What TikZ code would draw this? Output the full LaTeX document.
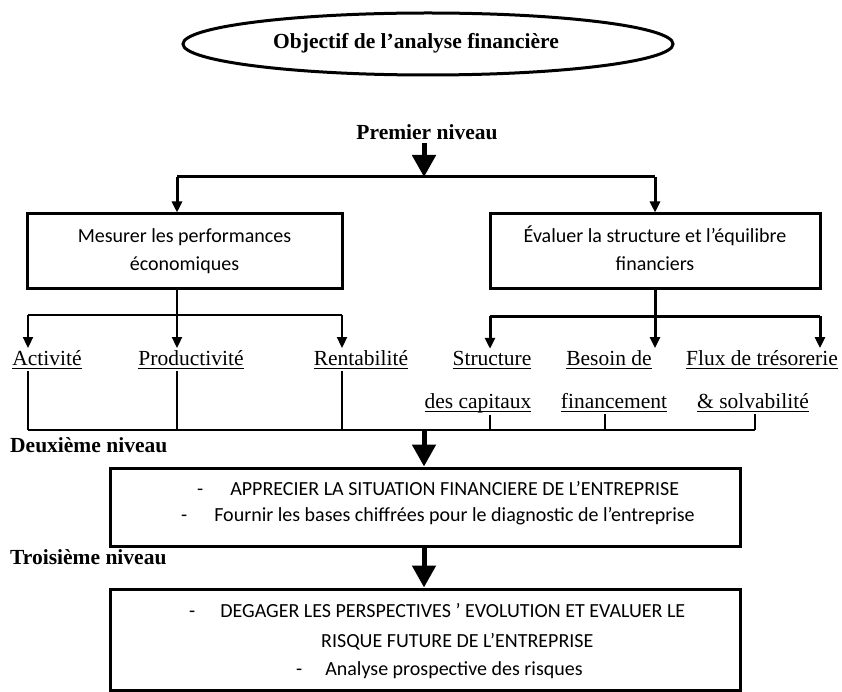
\documentclass[tikz,border=0pt]{standalone}
\usepackage{fontspec}
\setmainfont{Liberation Serif}
\newfontfamily\carl{Carlito}
\usetikzlibrary{arrows.meta,shapes.geometric}

% underline at a fixed depth below the baseline
\newcommand{\undl}[1]{\setbox0\hbox{#1}\rlap{\rule[-4.4pt]{\wd0}{1.3pt}}\box0}

\begin{document}
\begin{tikzpicture}[x=1pt,y=-1pt,
  serifb/.style={font=\fontsize{21.5}{26}\selectfont\bfseries, inner sep=0pt},
  lbl/.style={font=\fontsize{21.5}{26}\selectfont, inner sep=0pt, outer sep=2pt, anchor=base},
  framebox/.style={draw, line width=3pt, inner sep=0pt},
  boxtxt/.style={font=\carl\fontsize{20}{28}\selectfont, align=center},
  linetxt/.style={font=\carl\fontsize{20}{28}\selectfont, inner sep=0pt, anchor=base west},
  wide/.style={line width=3pt},
  slim/.style={line width=2pt},
  sarrow/.style={-{Triangle[width=10pt,length=11pt]}},
  barrow/.style={line width=5pt, -{Triangle[width=23pt,length=22pt]}}
]
\useasboundingbox (0,0) rectangle (842,692);

% title
\node[draw, ellipse, line width=3pt, minimum width=490pt, minimum height=62pt] (obj) at (428,44) {};
\node[serifb, anchor=base] (objtxt) at (416,49) {Objectif de l’analyse financière};

% first level
\node[serifb, anchor=base] (n1) at (427,140) {Premier niveau};
\coordinate (a1) at (424,143);
\coordinate (p1) at (424,177);
\coordinate (tl) at (177,177);
\coordinate (tr) at (655,177);
\draw[barrow] (a1) -- (p1);
\draw[wide] (tl) -- (tr);

\node[framebox, minimum width=315pt, minimum height=74pt] (b1) at (184.5,251) {};
\node[boxtxt] (b1t) at (184.5,251) {Mesurer les performances\strut\\économiques\strut};
\node[framebox, minimum width=330pt, minimum height=74pt] (b2) at (655,251) {};
\node[boxtxt] (b2t) at (655,251) {Évaluer la structure et l’équilibre\strut\\financiers\strut};

\draw[wide, sarrow] (tl) -- (tl |- b1.north);
\draw[wide, sarrow] (tr) -- (tr |- b2.north);

% left branch
\coordinate (lj) at (177,315);
\coordinate (ll) at (28,315);
\coordinate (lr) at (342,315);
\draw[slim] (b1.south -| lj) -- (lj);
\draw[slim] (ll) -- (lr);

% right branch
\coordinate (rj) at (655,316);
\coordinate (rl) at (490,316);
\coordinate (rr) at (820,316);
\draw[wide] (b2.south -| rj) -- (rj);
\draw[wide] (rl) -- (rr);

% second row of items
\node[lbl] (act) at (47,365) {\undl{Activité}};
\node[lbl] (prod) at (191,365) {\undl{Productivité}};
\node[lbl] (rent) at (361,365) {\undl{Rentabilité}};
\node[lbl] (str1) at (492,365) {\undl{Structure}};
\node[lbl] (bes1) at (609,365) {\undl{Besoin de}};
\node[lbl] (flx1) at (762,365) {\undl{Flux de trésorerie}};
\node[lbl] (str2) at (478,408) {\undl{des capitaux}};
\node[lbl] (bes2) at (614,408) {\undl{financement}};
\node[lbl] (flx2) at (753,408) {\undl{\& solvabilité}};

\draw[slim, sarrow] (ll) -- (ll |- act.north);
\draw[slim, sarrow] (lj) -- (lj |- prod.north);
\draw[slim, sarrow] (lr) -- (lr |- rent.north);
\draw[wide, sarrow] (rl) -- (rl |- str1.north);
\draw[wide, sarrow] (rj) -- (rj |- bes1.north);
\draw[wide, sarrow] (rr) -- (rr |- flx1.north);

% gathering line
\coordinate (g1) at (28,430);
\coordinate (g2) at (177,430);
\coordinate (g3) at (342,430);
\coordinate (g4) at (490,430);
\coordinate (g5) at (605,430);
\coordinate (g6) at (755,430);
\coordinate (gc) at (424,430);
\draw[slim] (g1 |- act.south) -- (g1);
\draw[slim] (g2 |- prod.south) -- (g2);
\draw[slim] (g3 |- rent.south) -- (g3);
\draw[slim] (g4 |- str2.south) -- (g4);
\draw[slim] (g5 |- bes2.south) -- (g5);
\draw[slim] (g6 |- flx2.south) -- (g6);
\draw[line width=2.5pt] (g1) -- (g6);

% second level
\node[serifb, anchor=base west] (n2) at (10,452) {Deuxième niveau};
\node[framebox, minimum width=630pt, minimum height=78pt] (b3) at (425,507) {};
\draw[barrow] (gc) -- (gc |- b3.north);
\node[linetxt] (b3l1) at (197,495) {-\hspace{27pt}APPRECIER LA SITUATION FINANCIERE DE L’ENTREPRISE};
\node[linetxt] (b3l2) at (181,521) {-\hspace{27pt}Fournir les bases chiffrées pour le diagnostic de l’entreprise};

% third level
\node[serifb, anchor=base west] (n3) at (10,564) {Troisième niveau};
\node[framebox, minimum width=630pt, minimum height=101pt] (b4) at (425,639.5) {};
\draw[barrow] (b3.south -| gc) -- (b4.north -| gc);
\node[linetxt] (b4l1) at (189,617) {-\hspace{25pt}DEGAGER LES PERSPECTIVES ’ EVOLUTION ET EVALUER LE};
\node[linetxt] (b4l2) at (321,647) {RISQUE FUTURE DE L’ENTREPRISE};
\node[linetxt] (b4l3) at (296,675) {-\hspace{23pt}Analyse prospective des risques};
\end{tikzpicture}
\end{document}
